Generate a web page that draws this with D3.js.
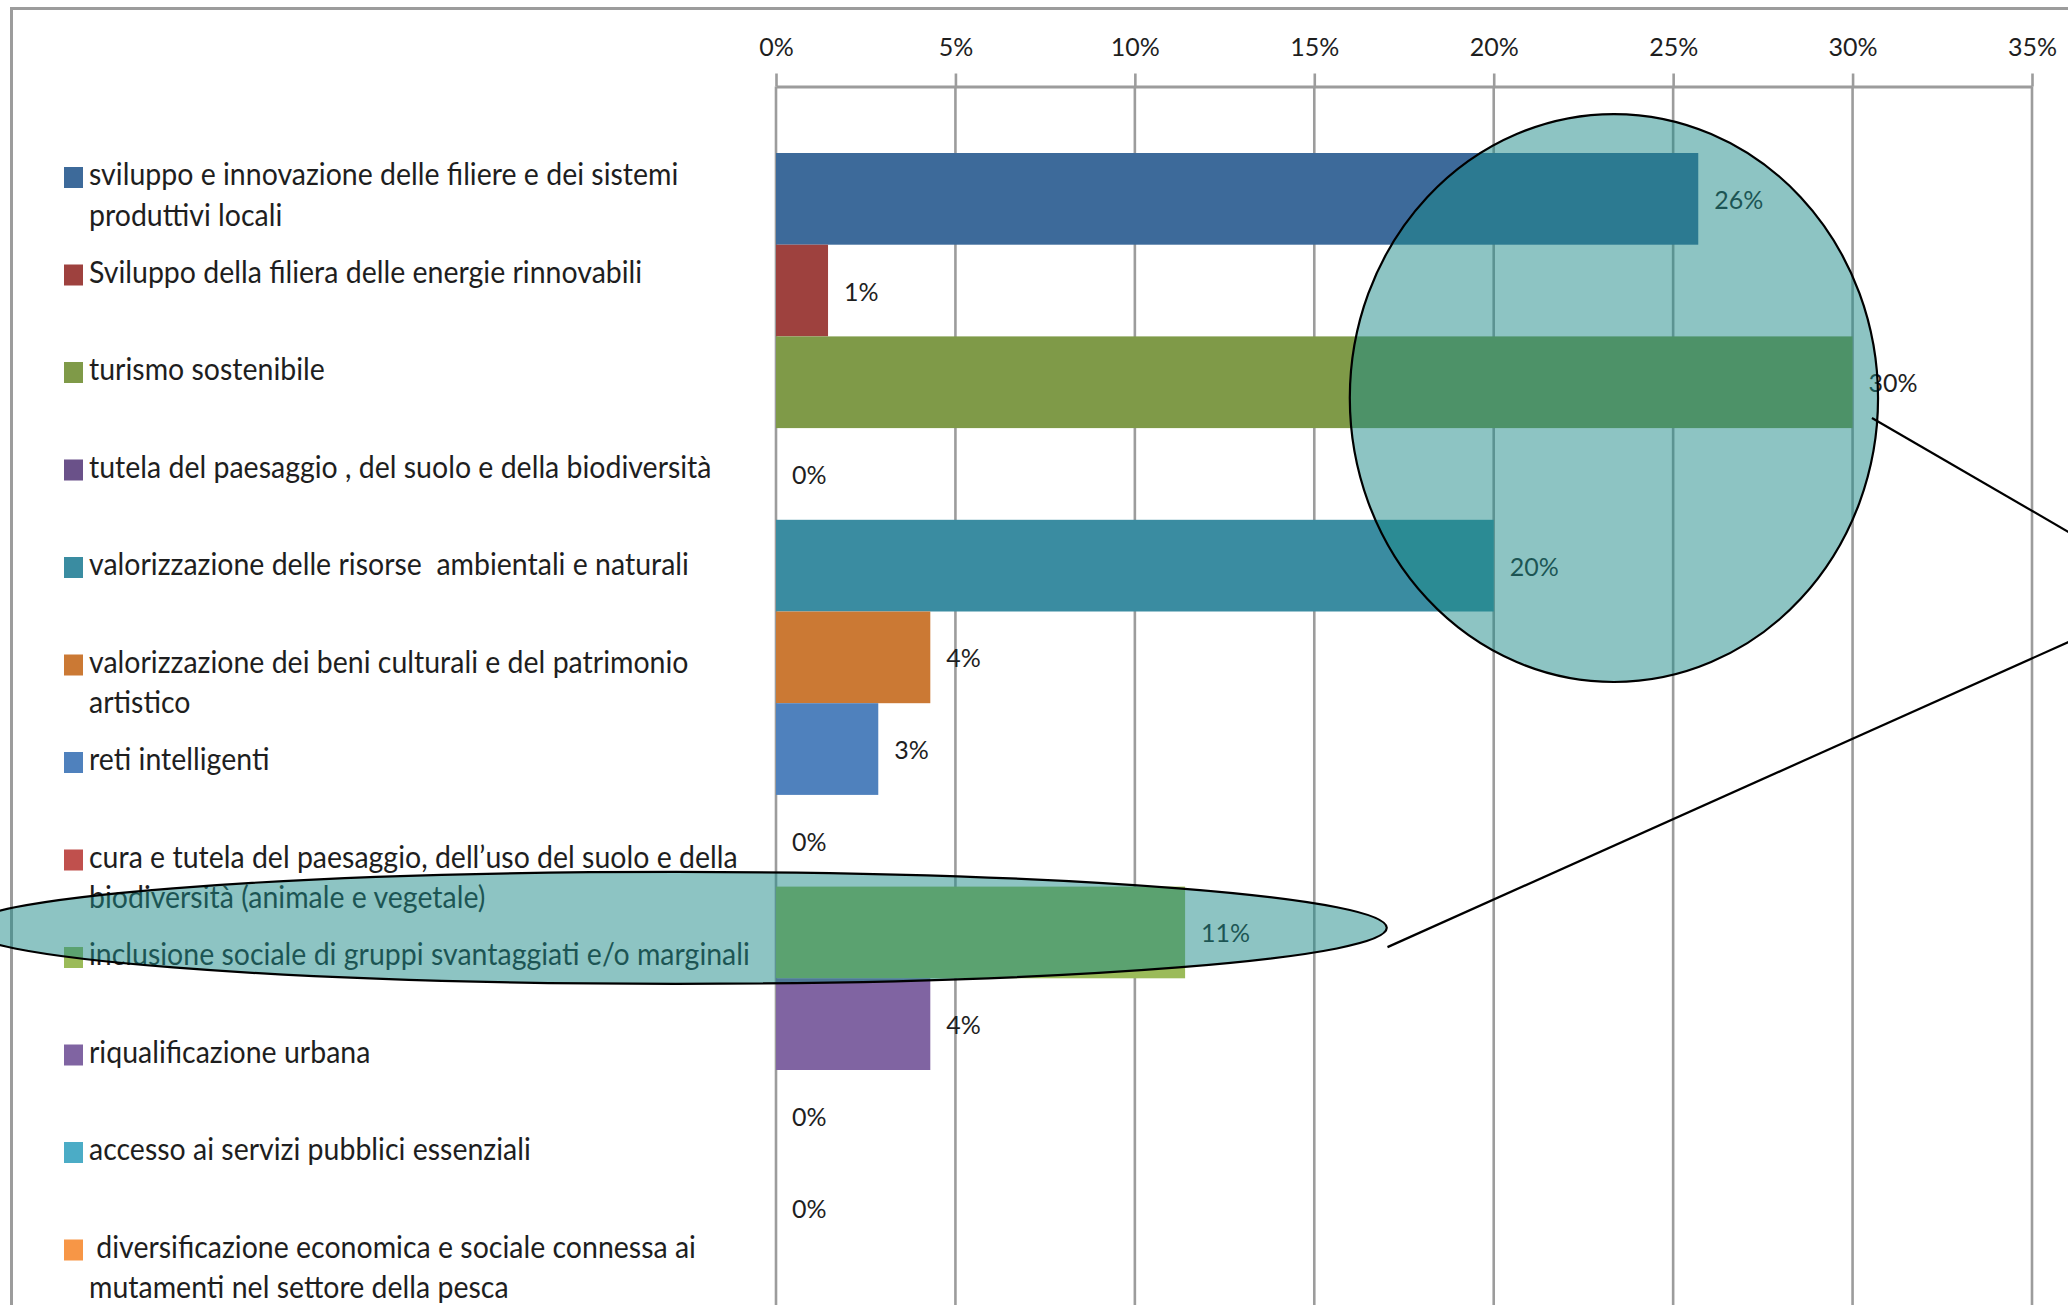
<!DOCTYPE html>
<html>
<head>
<meta charset="utf-8">
<script src="https://cdn.jsdelivr.net/npm/d3@7"></script>
<style>
    html, body { margin: 0; padding: 0; background: #fff; overflow: hidden; }
    svg { display: block; font-family: "Lato", "Noto Sans", sans-serif; }
    .legend-text, .bar-label, .axis text { white-space: pre; }
</style>
</head>
<body>
<div id="chart"></div>
<script>

// Data
var legendLines = [
    ["sviluppo e innovazione delle filiere e dei sistemi", "produttivi locali"],
    ["Sviluppo della filiera delle energie rinnovabili"],
    ["turismo sostenibile"],
    ["tutela del paesaggio , del suolo e della biodiversità"],
    ["valorizzazione delle risorse  ambientali e naturali"],
    ["valorizzazione dei beni culturali e del patrimonio", "artistico"],
    ["reti intelligenti"],
    ["cura e tutela del paesaggio, dell\u2019uso del suolo e della", "biodiversità (animale e vegetale)"],
    ["inclusione sociale di gruppi svantaggiati e/o marginali"],
    ["riqualificazione urbana"],
    ["accesso ai servizi pubblici essenziali"],
    [" diversificazione economica e sociale connessa ai", "mutamenti nel settore della pesca"]
];

var categories = legendLines.map(function(l) { return l.join(" "); });

// percent
var values = [25.7, 1.45, 30.0, 0, 20.0, 4.3, 2.85, 0, 11.4, 4.3, 0, 0];

var tickValues = [0, 5, 10, 15, 20, 25, 30, 35];

var colors = ["#3d6a9a", "#9e413e", "#7f9a48", "#6a5189", "#3a8ca1", "#cb7934",
              "#4f81bd", "#c0504d", "#9bbb59", "#8064a2", "#4bacc6", "#f79646"];

var width = 2068;
var height = 1305;

var gridColor = "#9c9c9c";
var textColor = "#1e1e1e";
var fmt = function(v) { return d3.format(".0%")(v / 100); };

var svg = d3.select("#chart")
    .append("svg")
    .attr("width", width)
    .attr("height", height);

// outer frame (runs off the right and bottom)
svg.append("rect")
    .attr("x", 11.5)
    .attr("y", 8.5)
    .attr("width", width + 100)
    .attr("height", height + 100)
    .attr("fill", "none")
    .attr("stroke", gridColor)
    .attr("stroke-width", 3);

var x = d3.scaleLinear()
    .domain([0, 35])
    .range([776, 2032]);

var y = d3.scaleBand()
    .domain(categories)
    .range([153, 1253.4])
    .paddingInner(0);

// position in band units, for the annotations
var yAt = function(u) { return y.range()[0] + u * y.step(); };

var axisY = 86.5;

// gridlines
svg.append("g")
    .attr("class", "grid")
    .selectAll("line")
    .data(tickValues)
    .enter()
    .append("line")
    .attr("x1", function(d) { return x(d); })
    .attr("x2", function(d) { return x(d); })
    .attr("y1", axisY)
    .attr("y2", height)
    .attr("stroke", gridColor)
    .attr("stroke-width", 2.6);

// top axis
var axis = svg.append("g")
    .attr("class", "axis")
    .attr("transform", "translate(0," + axisY + ")")
    .call(d3.axisTop(x)
        .tickValues(tickValues)
        .tickFormat(fmt)
        .tickSize(13)
        .tickSizeOuter(0)
        .tickPadding(18));

axis.select(".domain")
    .attr("stroke", gridColor)
    .attr("stroke-width", 3);

axis.selectAll(".tick line")
    .attr("stroke", gridColor)
    .attr("stroke-width", 2.6);

axis.selectAll(".tick text")
    .attr("fill", textColor)
    .attr("font-family", "Lato, 'Noto Sans', sans-serif")
    .attr("font-size", 25);

// bars
svg.append("g")
    .selectAll("rect")
    .data(values)
    .enter()
    .append("rect")
    .attr("x", x(0))
    .attr("y", function(d, i) { return y(categories[i]); })
    .attr("width", function(d) { return x(d) - x(0); })
    .attr("height", y.bandwidth())
    .attr("fill", function(d, i) { return colors[i]; });

// data labels
svg.append("g")
    .selectAll("text")
    .data(values)
    .enter()
    .append("text")
    .attr("class", "bar-label")
    .attr("x", function(d) { return x(d) + 16; })
    .attr("y", function(d, i) { return y(categories[i]) + y.bandwidth() / 2; })
    .attr("dy", "0.4em")
    .attr("font-size", 25)
    .attr("fill", textColor)
    .text(fmt);

// legend
var legendTop = 185;
var legendStep = 97.5;

var entry = svg.append("g")
    .selectAll("g")
    .data(legendLines)
    .enter()
    .append("g")
    .attr("transform", function(d, i) { return "translate(0," + (legendTop + i * legendStep) + ")"; });

entry.append("rect")
    .attr("x", 64)
    .attr("y", -18)
    .attr("width", 19)
    .attr("height", 21)
    .attr("fill", function(d, i) { return colors[i]; });

// the original font is a little narrower than Lato
var lt = entry.append("text")
    .attr("class", "legend-text")
    .attr("transform", "translate(89,0) scale(0.95,1)")
    .attr("font-size", 30)
    .attr("fill", textColor);

lt.selectAll("tspan")
    .data(function(d) { return d; })
    .enter()
    .append("tspan")
    .attr("x", 0)
    .attr("y", function(d, j) { return j * 41; })
    .text(function(d) { return d; });

// hand drawn highlights on top
var overlay = svg.append("g").attr("class", "overlay");

var big = { v: 23.35, u: 2.672, rv: 7.36, ru: 3.097 };
var small = { v: -2.79, u: 8.45, rv: 19.81, ru: 0.61 };

[big, small].forEach(function(e) {
    overlay.append("ellipse")
        .attr("cx", x(e.v))
        .attr("cy", yAt(e.u))
        .attr("rx", x(e.rv) - x(0))
        .attr("ry", e.ru * y.step())
        .attr("fill", "#1b8987")
        .attr("fill-opacity", 0.5)
        .attr("stroke", "#000")
        .attr("stroke-width", 2.2);
});

// callout lines meeting off to the right
var meet = { v: 39.0, u: 4.81 };
var starts = [{ v: 30.54, u: 2.89 }, { v: 17.04, u: 8.66 }];

starts.forEach(function(s) {
    overlay.append("line")
        .attr("x1", x(s.v))
        .attr("y1", yAt(s.u))
        .attr("x2", x(meet.v))
        .attr("y2", yAt(meet.u))
        .attr("stroke", "#000")
        .attr("stroke-width", 2.2);
});

</script>
</body>
</html>
